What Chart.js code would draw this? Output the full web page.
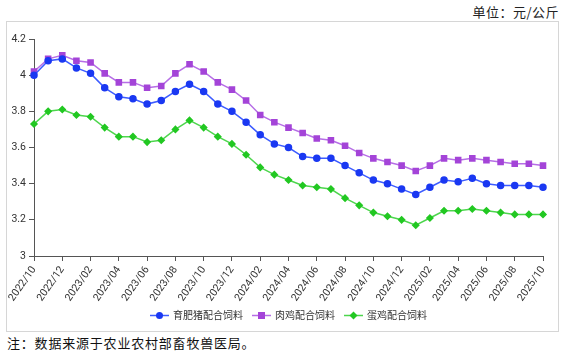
<!DOCTYPE html>
<html>
<head>
<meta charset="utf-8">
<script src="https://cdn.jsdelivr.net/npm/chart.js@4/dist/chart.umd.min.js"></script>
<style>
  body { margin: 0; width: 569px; height: 353px; background: #fff; position: relative; overflow: hidden; }
  #unit { position: absolute; right: 10px; top: 3px; font: 13px "Noto Sans CJK SC", sans-serif; line-height: 18px; color: #222; letter-spacing: 0.5px; }
  #frame { position: absolute; left: 6px; top: 21px; width: 553px; height: 311px; border: 1px solid #d6d6d6; box-sizing: border-box; }
  #frame canvas { display: block; }
  #note { position: absolute; left: 7px; top: 334px; font: 13px "Noto Sans CJK SC", serif; line-height: 18px; color: #111; letter-spacing: 0.8px; }
</style>
</head>
<body>
<div id="unit">单位：元/公斤</div>
<div id="frame"><canvas id="feedChart" width="551" height="309"></canvas></div>
<div id="note">注：数据来源于农业农村部畜牧兽医局。</div>

<script>
// months on the x axis
const months = [
  '2022/10','2022/11','2022/12',
  '2023/01','2023/02','2023/03','2023/04','2023/05','2023/06','2023/07','2023/08','2023/09','2023/10','2023/11','2023/12',
  '2024/01','2024/02','2024/03','2024/04','2024/05','2024/06','2024/07','2024/08','2024/09','2024/10','2024/11','2024/12',
  '2025/01','2025/02','2025/03','2025/04','2025/05','2025/06','2025/07','2025/08','2025/09','2025/10'
];

// 元/公斤
const pigFeed = [
  4.00, 4.08, 4.09, 4.04, 4.01, 3.93, 3.88, 3.87, 3.84, 3.86, 3.91, 3.95,
  3.91, 3.84, 3.80, 3.74, 3.67, 3.62, 3.60, 3.55, 3.54, 3.54, 3.50, 3.46,
  3.42, 3.40, 3.37, 3.34, 3.38, 3.42, 3.41, 3.43, 3.40, 3.39, 3.39, 3.39, 3.38
];
const broilerFeed = [
  4.02, 4.09, 4.11, 4.08, 4.07, 4.01, 3.96, 3.96, 3.93, 3.94, 4.01, 4.06,
  4.02, 3.96, 3.92, 3.86, 3.78, 3.74, 3.71, 3.68, 3.65, 3.64, 3.61, 3.57,
  3.54, 3.52, 3.50, 3.47, 3.50, 3.54, 3.53, 3.54, 3.53, 3.52, 3.51, 3.51, 3.50
];
const layerFeed = [
  3.73, 3.80, 3.81, 3.78, 3.77, 3.71, 3.66, 3.66, 3.63, 3.64, 3.70, 3.75,
  3.71, 3.66, 3.62, 3.56, 3.49, 3.45, 3.42, 3.39, 3.38, 3.37, 3.32, 3.28,
  3.24, 3.22, 3.20, 3.17, 3.21, 3.25, 3.25, 3.26, 3.25, 3.24, 3.23, 3.23, 3.23
];

const seriesNames = ['育肥猪配合饲料', '肉鸡配合饲料', '蛋鸡配合饲料'];

const yMin = 3, yMax = 4.2, yStep = 0.2;

const tickFont = { family: 'Roboto, "Noto Sans", sans-serif', size: 10.5 };

// legend: short line with the marker on it, then the name
const lineLegend = {
  id: 'lineLegend',
  afterDraw(chart) {
    const ctx = chart.ctx;
    const area = chart.chartArea;
    const y = 293.5;
    ctx.save();
    ctx.font = '10px "Noto Sans CJK SC", sans-serif';
    ctx.textBaseline = 'middle';
    const items = chart.data.datasets.map(ds => ({ ds: ds, w: 23 + ctx.measureText(ds.label).width }));
    const gap = 9;
    let total = items.reduce((s, it) => s + it.w, 0) + gap * (items.length - 1);
    let x = (area.left + area.right) / 2 - total / 2;
    items.forEach(it => {
      const ds = it.ds;
      ctx.strokeStyle = ds.borderColor;
      ctx.lineWidth = 1.5;
      ctx.beginPath();
      ctx.moveTo(x, y);
      ctx.lineTo(x + 19, y);
      ctx.stroke();
      const cx = x + 9.5;
      ctx.fillStyle = ds.pointBackgroundColor;
      ctx.beginPath();
      if (ds.pointStyle === 'circle') {
        ctx.arc(cx, y, 3.5, 0, Math.PI * 2);
      } else if (ds.pointStyle === 'rect') {
        ctx.rect(cx - 3.5, y - 3.5, 7, 7);
      } else {
        ctx.moveTo(cx, y - 4);
        ctx.lineTo(cx + 4, y);
        ctx.lineTo(cx, y + 4);
        ctx.lineTo(cx - 4, y);
        ctx.closePath();
      }
      ctx.fill();
      ctx.fillStyle = '#333';
      ctx.textAlign = 'left';
      ctx.fillText(ds.label, x + 23, y);
      x += it.w + gap;
    });
    ctx.restore();
  }
};

new Chart(document.getElementById('feedChart'), {
  type: 'line',
  data: {
    labels: months,
    datasets: [
      {
        label: seriesNames[0],
        data: pigFeed,
        borderColor: '#3d5cff',
        pointBackgroundColor: '#1a38f2',
        pointBorderColor: '#1a38f2',
        pointStyle: 'circle',
        pointRadius: 3,
        borderWidth: 1.5
      },
      {
        label: seriesNames[1],
        data: broilerFeed,
        borderColor: '#b66ee6',
        pointBackgroundColor: '#a444d8',
        pointBorderColor: '#a444d8',
        pointStyle: 'rect',
        pointRadius: 3.6,
        borderWidth: 1.5
      },
      {
        label: seriesNames[2],
        data: layerFeed,
        borderColor: '#4ed64e',
        pointBackgroundColor: '#22c822',
        pointBorderColor: '#22c822',
        pointStyle: 'rectRot',
        pointRadius: 3,
        borderWidth: 1.5
      }
    ]
  },
  options: {
    responsive: false,
    animation: false,
    layout: { padding: { top: 17, right: 15, bottom: 0, left: 0 } },
    plugins: {
      legend: { display: false },
      tooltip: { enabled: false }
    },
    scales: {
      x: {
        grid: { drawOnChartArea: false, drawTicks: true, tickLength: 5, color: '#555' },
        border: { display: true, color: '#555', width: 1 },
        ticks: {
          autoSkip: false,
          minRotation: 55,
          maxRotation: 55,
          padding: 3,
          color: '#333',
          font: tickFont,
          callback: function (value, index) {
            return index % 2 === 0 ? months[index] : null;
          }
        },
        afterFit: function (scale) { scale.height = 75; }
      },
      y: {
        min: yMin,
        max: yMax,
        grid: { drawOnChartArea: false, drawTicks: true, tickLength: 5, color: '#555' },
        border: { display: true, color: '#555', width: 1 },
        ticks: {
          stepSize: yStep,
          padding: 3,
          color: '#333',
          font: tickFont,
          callback: v => String(parseFloat(v.toFixed(1)))
        },
        afterFit: function (scale) { scale.width = 27; }
      }
    }
  },
  plugins: [lineLegend]
});
</script>
</body>
</html>
